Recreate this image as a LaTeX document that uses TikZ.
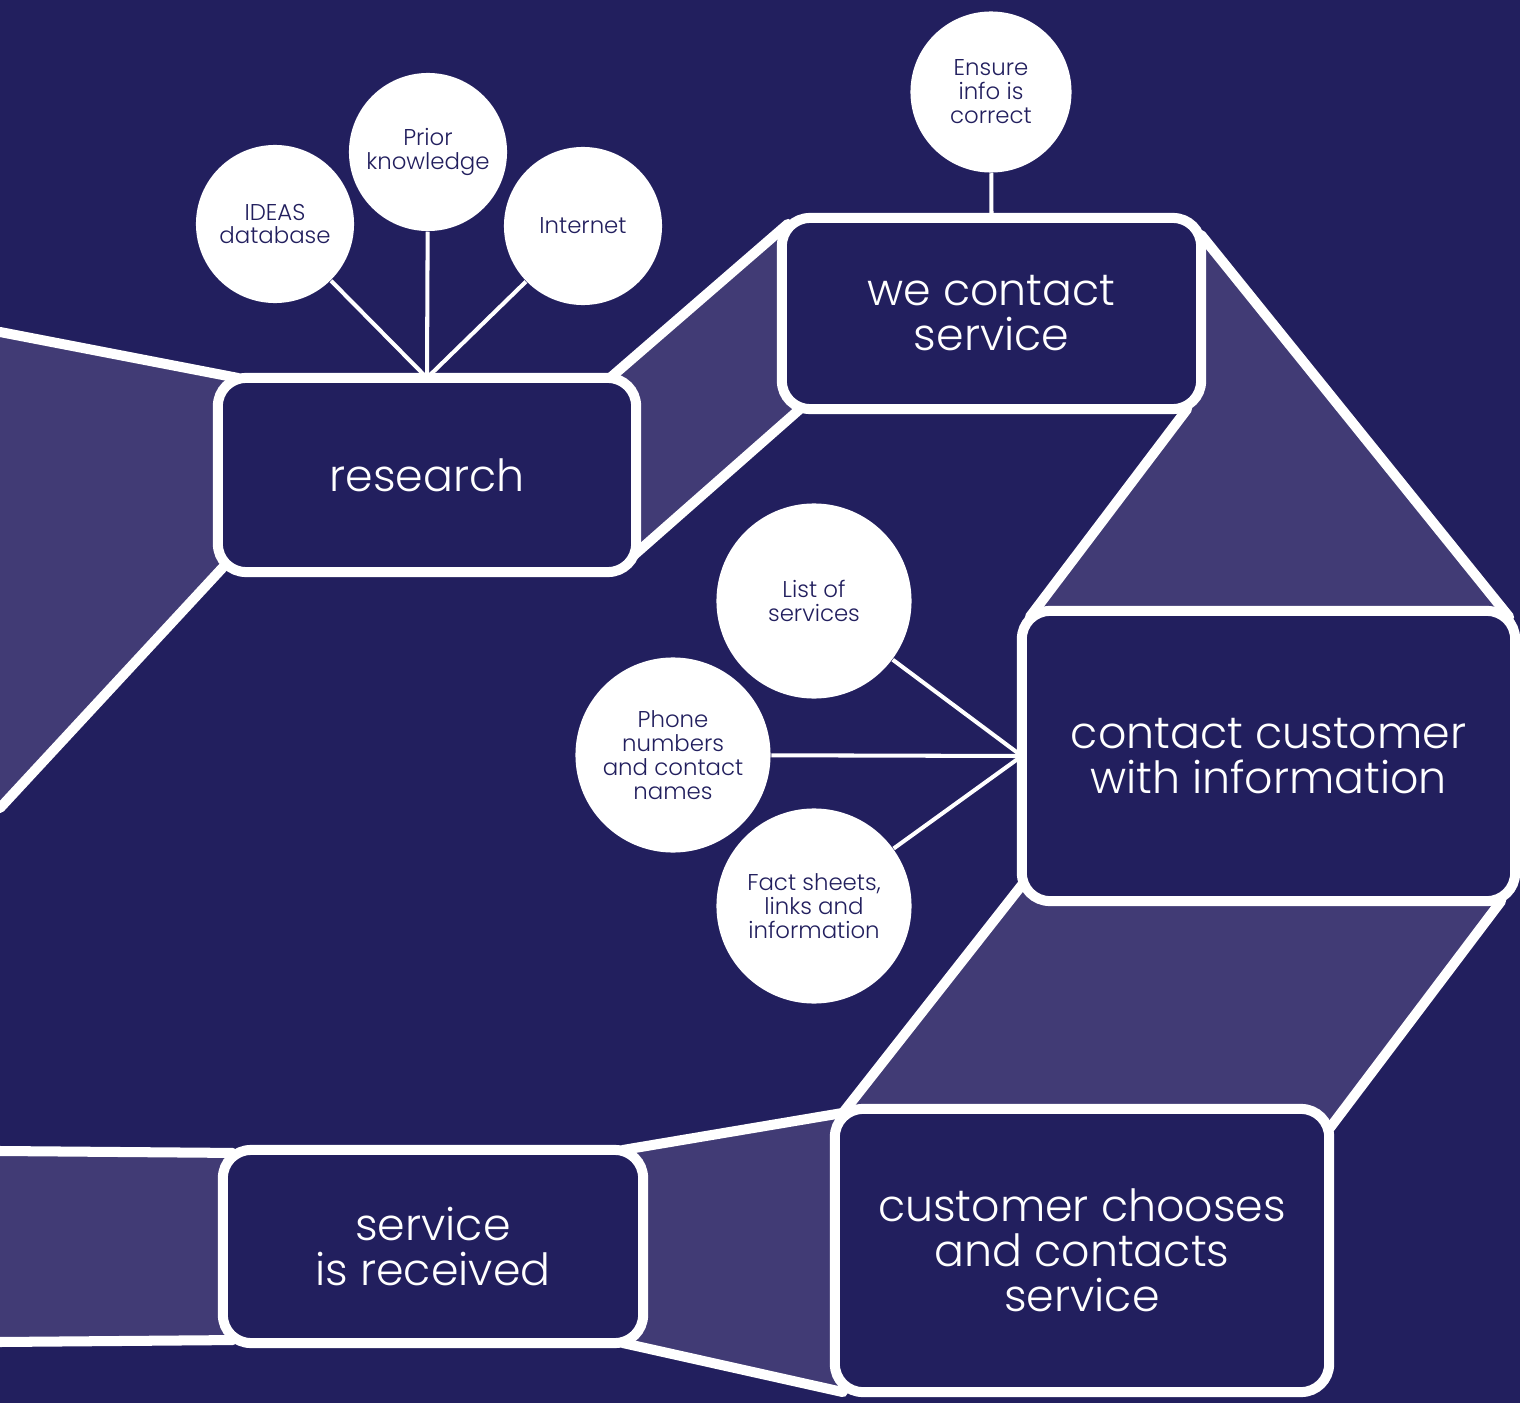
\documentclass[tikz,border=0pt]{standalone}
\usepackage{fontspec}
\setmainfont{Poppins Light}
\usepackage{tikz}
\definecolor{navy}{RGB}{34,31,94}
\definecolor{lilac}{RGB}{65,59,117}
\pgfdeclarelayer{bg}
\pgfdeclarelayer{links}
\pgfsetlayers{bg,links,main}
\tikzset{stage/.style={draw=white, line width=2.85pt, fill=navy, rounded corners=0.28cm,
    text=white, align=center, inner sep=0pt, outer sep=0pt, font=\fontsize{12.6}{12.8}\selectfont}}
\tikzset{bubble/.style={circle, fill=white, text=navy, align=center, inner sep=0pt,
    font=\fontsize{6.5}{6.8}\selectfont}}
\tikzset{band/.style={fill=lilac}}
\tikzset{rim/.style={draw=white, line width=2.85pt, line cap=round}}
\tikzset{spoke/.style={draw=white, line width=1.15pt}}

\begin{document}
\begin{tikzpicture}[x=0.01cm, y=-0.01cm]
    \useasboundingbox (0,0) rectangle (1520,1403);
    \begin{pgfonlayer}{bg}
      \fill[navy] (0,0) rectangle (1520,1403);
    \end{pgfonlayer}

    \node[stage, minimum width=4.18cm, minimum height=1.94cm] (research) at (427,475) {research};
    \node[stage, minimum width=4.19cm, minimum height=1.91cm] (wecontact) at (991.5,313.5) {we contact\\service};
    \node[stage, minimum width=4.93cm, minimum height=2.90cm] (customer) at (1268.5,756) {contact customer\\with information};
    \node[stage, minimum width=4.94cm, minimum height=2.83cm] (choose) at (1082,1250.5) {customer chooses\\and contacts\\service};
    \node[stage, minimum width=4.20cm, minimum height=1.93cm] (received) at (433,1246.5) {service\\is received};

    \node[bubble, minimum size=1.58cm] (ideas) at (275,224) {IDEAS\\database};
    \node[bubble, minimum size=1.58cm] (prior) at (428,152) {Prior\\knowledge};
    \node[bubble, minimum size=1.58cm] (internet) at (583,226) {Internet};
    \node[bubble, minimum size=1.61cm] (ensure) at (991,92) {Ensure\\info is\\correct};
    \node[bubble, minimum size=1.95cm] (list) at (814,601) {List of\\services};
    \node[bubble, minimum size=1.95cm] (phone) at (673,755) {Phone\\numbers\\and contact\\names};
    \node[bubble, minimum size=1.95cm] (facts) at (814,906) {Fact sheets,\\links and\\information};

    \coordinate (inTop) at (0,332);
    \coordinate (inBot) at (0,808);
    \coordinate (outTop) at (0,1151);
    \coordinate (outBot) at (0,1342);

    \draw[spoke] (ideas) -- (research.north);
    \draw[spoke] (prior) -- (research.north);
    \draw[spoke] (internet) -- (research.north);
    \draw[spoke] (ensure) -- (wecontact.north);
    \draw[spoke] (list) -- (customer.west);
    \draw[spoke] (phone) -- (customer.west);
    \draw[spoke] (facts) -- (customer.west);

    \begin{pgfonlayer}{links}
      \fill[band] (inTop) -- ([xshift=0.2cm]research.north west)
        -- ([shift={(0.1cm,0.1cm)}]research.south west) -- (inBot) -- cycle;
      \draw[rim] (inTop) -- ([xshift=0.2cm]research.north west);
      \draw[rim] (inBot) -- ([shift={(0.1cm,0.1cm)}]research.south west);

      \fill[band] ([xshift=-0.26cm]research.north east) -- ([shift={(0.06cm,-0.06cm)}]wecontact.north west)
        -- ([xshift=0.18cm]wecontact.south west) -- ([shift={(-0.1cm,0.1cm)}]research.south east) -- cycle;
      \draw[rim] ([xshift=-0.26cm]research.north east) -- ([shift={(0.06cm,-0.06cm)}]wecontact.north west);
      \draw[rim] ([shift={(-0.1cm,0.1cm)}]research.south east) -- ([xshift=0.18cm]wecontact.south west);

      \fill[band] ([yshift=-0.17cm]wecontact.north east) -- ([shift={(-0.06cm,-0.06cm)}]customer.north east)
        -- ([shift={(0.08cm,-0.06cm)}]customer.north west) -- ([xshift=-0.14cm]wecontact.south east) -- cycle;
      \draw[rim] ([yshift=-0.17cm]wecontact.north east) -- ([shift={(-0.06cm,-0.06cm)}]customer.north east);
      \draw[rim] ([xshift=-0.14cm]wecontact.south east) -- ([shift={(0.08cm,-0.06cm)}]customer.north west);

      \fill[band] ([yshift=0.16cm]customer.south west) -- ([shift={(0.08cm,-0.04cm)}]choose.north west)
        -- ([yshift=-0.2cm]choose.north east) -- ([xshift=-0.14cm]customer.south east) -- cycle;
      \draw[rim] ([yshift=0.16cm]customer.south west) -- ([shift={(0.08cm,-0.04cm)}]choose.north west);
      \draw[rim] ([xshift=-0.14cm]customer.south east) -- ([yshift=-0.2cm]choose.north east);

      \fill[band] ([xshift=-0.2cm]received.north east) -- ([shift={(0.08cm,-0.04cm)}]choose.north west)
        -- ([xshift=0.08cm]choose.south west) -- ([xshift=-0.2cm]received.south east) -- cycle;
      \draw[rim] ([xshift=-0.2cm]received.north east) -- ([shift={(0.08cm,-0.04cm)}]choose.north west);
      \draw[rim] ([xshift=-0.2cm]received.south east) -- ([xshift=0.08cm]choose.south west);

      \fill[band] (outTop) -- ([shift={(0.1cm,-0.03cm)}]received.north west)
        -- ([shift={(0.1cm,0.03cm)}]received.south west) -- (outBot) -- cycle;
      \draw[rim] (outTop) -- ([shift={(0.1cm,-0.03cm)}]received.north west);
      \draw[rim] (outBot) -- ([shift={(0.1cm,0.03cm)}]received.south west);
    \end{pgfonlayer}
  \end{tikzpicture}
\end{document}
